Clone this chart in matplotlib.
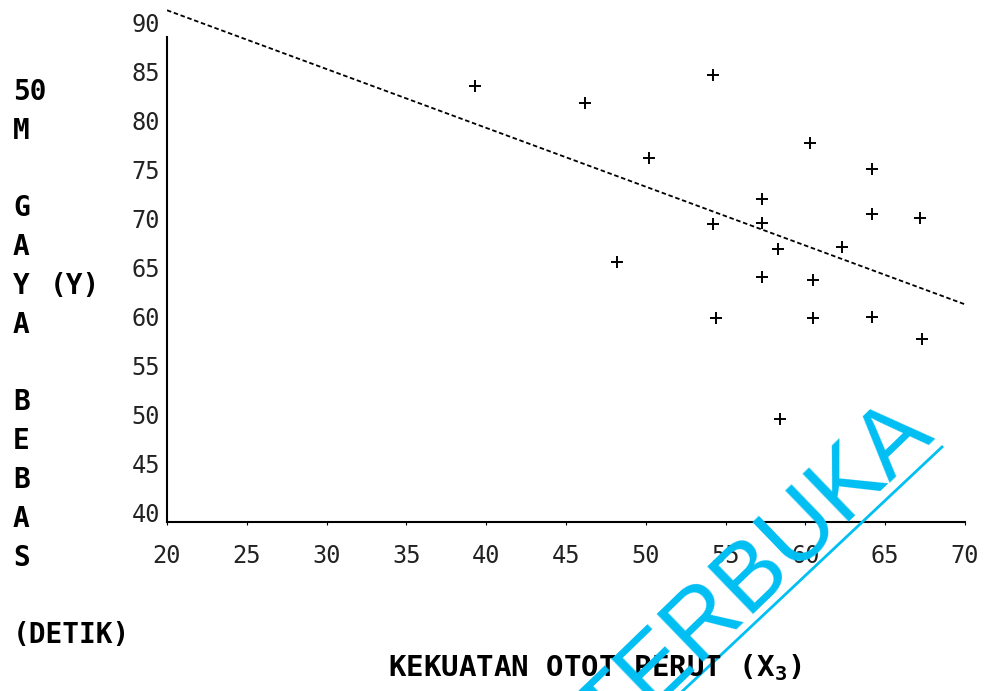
import matplotlib
matplotlib.use("Agg")
import matplotlib.pyplot as plt
from matplotlib.lines import Line2D

# kekuatan otot perut (X3) vs waktu gaya bebas 50 m (Y)
kekuatan = [39.3, 46.2, 48.2, 50.2, 54.2, 54.2, 54.4, 57.3, 57.3, 57.3, 58.3,
            58.4, 60.3, 60.5, 60.5, 62.3, 64.2, 64.2, 64.2, 67.2, 67.3]
waktu = [83.5, 81.7, 65.5, 76.1, 84.6, 69.4, 59.8, 71.9, 69.5, 64.0, 66.8,
         49.5, 77.7, 63.7, 59.8, 67.1, 75.0, 70.4, 59.9, 70.0, 57.7]

# regression line end points
reg_x = [20, 70]
reg_y = [91.2, 61.2]

x_ticks = list(range(20, 75, 5))
y_ticks = list(range(40, 95, 5))

ylabel_lines = ["50", "M", "", "G", "A", "Y", "A", "", "B", "E", "B", "A", "S", "", "(DETIK)"]

W, H = 984, 691
plt.rcParams["font.family"] = ["DejaVu Sans Mono"]
plt.rcParams["mathtext.default"] = "regular"

fig = plt.figure(figsize=(W / 100, H / 100), dpi=100)
ax = fig.add_axes([167 / W, 1 - 522 / H, 798 / W, 522 / H])

ax.plot(reg_x, reg_y, color="black", lw=1.3, linestyle=(0, (2.5, 1.5)))
ax.plot(kekuatan, waktu, linestyle="none", marker="+", color="black",
        markersize=9, markeredgewidth=1.4)

ax.set_xlim(20, 70)
ax.set_ylim(39, 40 + 512 / 9.8)
ax.set_xticks(x_ticks)
ax.set_yticks(y_ticks)
ax.set_xticklabels([str(t) for t in x_ticks])
ax.set_yticklabels([str(t) for t in y_ticks])
ax.tick_params(axis="x", length=2, pad=14, labelsize=17, labelcolor="#222222")
ax.tick_params(axis="y", length=0, pad=5, labelsize=17, labelcolor="#222222")

for s in ["top", "right"]:
    ax.spines[s].set_visible(False)
ax.spines["left"].set_bounds(39, 88.5)
ax.spines["left"].set_linewidth(1.5)
ax.spines["bottom"].set_linewidth(1.5)

# vertical y label, one line per row
for i, txt in enumerate(ylabel_lines):
    py = 92 + 38.8 * i
    if txt:
        fig.text(13 / W, 1 - py / H, txt, ha="left", va="center",
                 fontsize=20, fontweight="bold")
fig.text(50 / W, 1 - (92 + 38.8 * 5) / H, "(Y)", ha="left", va="center",
         fontsize=20, fontweight="bold")

fig.text(388 / W, 1 - 668 / H, "KEKUATAN OTOT PERUT (X$_3$)", ha="left",
         va="center", fontsize=21, fontweight="bold")

# watermark from the scanned page
wm = "#00bff3"
fig.text(936 / W, 1 - 436 / H, "TERBUKA", rotation=44, rotation_mode="anchor",
         ha="right", va="baseline", fontsize=69, family="Liberation Sans",
         color=wm)
fig.add_artist(Line2D([942 / W, 655 / W], [1 - 447 / H, 1 - 717 / H],
                      transform=fig.transFigure, color=wm, lw=2))

fig.savefig("out.png", dpi=100)
